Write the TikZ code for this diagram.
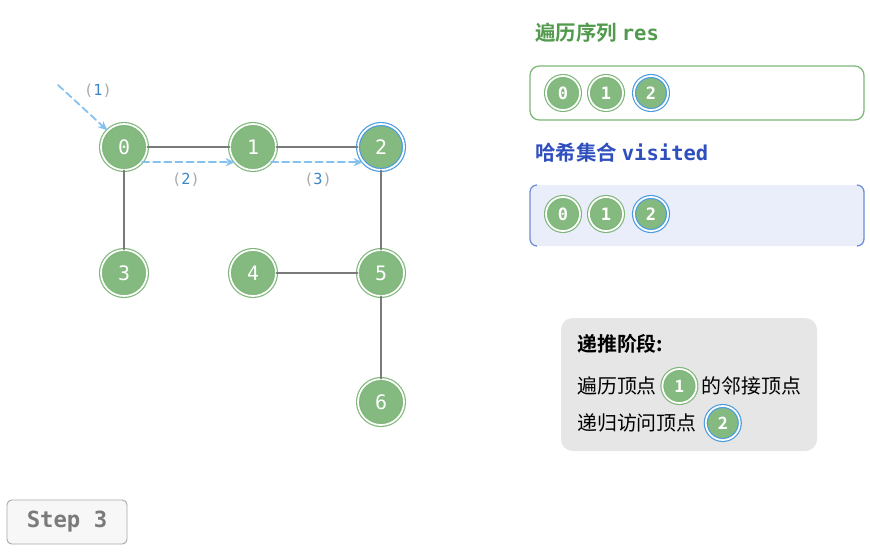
\documentclass[tikz,border=0pt]{standalone}
\usepackage{fontspec}
\setmainfont{Noto Sans CJK SC}[BoldFont={* Bold}]
\setmonofont{DejaVu Sans Mono}
\usetikzlibrary{arrows.meta,positioning}

\definecolor{vgreen}{HTML}{84B97F}
\definecolor{vring}{HTML}{7FB77A}
\definecolor{vblue}{HTML}{4A9BE0}
\definecolor{egray}{HTML}{7A7A7A}
\definecolor{tblue}{HTML}{84C1EE}
\definecolor{tagblue}{HTML}{3D86C6}
\definecolor{taggray}{HTML}{A8A8A8}
\definecolor{resgreen}{HTML}{529A4D}
\definecolor{visblue}{HTML}{2F4FBF}
\definecolor{visfill}{HTML}{E9EEFA}
\definecolor{visline}{HTML}{6F8CD6}
\definecolor{notefill}{HTML}{E6E6E6}
\definecolor{stepgray}{HTML}{7A7A7A}

\newcommand{\tagtext}[1]{{\color{taggray}(}{\color{tagblue}#1}{\color{taggray})}}

\begin{document}
\begin{tikzpicture}[x=0.03cm, y=-0.03cm, line cap=round,
  every node/.style={inner sep=0pt},
  vtx/.style={circle, fill=vgreen, draw=vring, double=white, double distance=1.5pt,
    line width=1pt, minimum size=1.38cm, text=white,
    font=\ttfamily\fontsize{17}{17}\selectfont},
  vtxnew/.style={vtx, draw=vblue},
  mini/.style={vtx, minimum size=1.02cm, font=\ttfamily\bfseries\fontsize{14.5}{14.5}\selectfont},
  mininew/.style={mini, draw=vblue},
  edge/.style={draw=egray, line width=2pt},
  trail/.style={draw=tblue, line width=1.5pt, dash pattern=on 6pt off 3.5pt,
    -{Stealth[length=8pt,width=7pt]}},
  tag/.style={font=\ttfamily\fontsize{13}{13}\selectfont},
  title/.style={anchor=west, font=\bfseries\fontsize{17.5}{17.5}\selectfont},
  note/.style={anchor=west, font=\fontsize{17}{17}\selectfont}]

\useasboundingbox (0,0) rectangle (870,551);

% ---------- graph ----------
\node[vtx] (n0) at (124,147) {0};
\node[vtx] (n1) at (253,147) {1};
\node[vtxnew] (n2) at (381,147) {2};
\node[vtx] (n3) at (124,273) {3};
\node[vtx] (n4) at (253,273) {4};
\node[vtx] (n5) at (381,273) {5};
\node[vtx] (n6) at (381,402) {6};

\draw[edge] (n0) -- (n1);
\draw[edge] (n1) -- (n2);
\draw[edge] (n0) -- (n3);
\draw[edge] (n2) -- (n5);
\draw[edge] (n4) -- (n5);
\draw[edge] (n5) -- (n6);

% ---------- search trail ----------
\coordinate (start) at (58,85);
\draw[trail] (start) -- (n0.135);
\draw[trail] (n0.-40) -- (n1.-140);
\draw[trail] (n1.-40) -- (n2.-140);
\node[tag] (t1) at (98,91) {\tagtext{1}};
\node[tag] (t2) at (186,180) {\tagtext{2}};
\node[tag] (t3) at (318,180) {\tagtext{3}};

% ---------- res ----------
\node[title, text=resgreen] (restitle) at (535,33) {遍历序列 {\ttfamily res}};
\draw[draw=vring, line width=1.1pt, fill=white, rounded corners=8pt] (530,66) rectangle (864,120);
\node[mini] (r0) at (563,93) {0};
\node[mini] (r1) at (606,93) {1};
\node[mininew] (r2) at (651,93) {2};

% ---------- visited ----------
\node[title, text=visblue] (vistitle) at (535,153) {哈希集合 {\ttfamily visited}};
\fill[visfill, rounded corners=8pt] (530,185) rectangle (864,246);
\draw[visline, line width=1.1pt, rounded corners=6pt] (537,185) -- (530,185) -- (530,246) -- (537,246);
\draw[visline, line width=1.1pt, rounded corners=6pt] (857,185) -- (864,185) -- (864,246) -- (857,246);
\node[mini] (s0) at (563,214) {0};
\node[mini] (s1) at (606,214) {1};
\node[mininew] (s2) at (651,214) {2};

% ---------- note ----------
\fill[notefill, rounded corners=10pt] (561,318) rectangle (817,451);
\node[note, font=\bfseries\fontsize{17}{17}\selectfont] (head) at (577,344) {递推阶段:};
\node[note] (l1a) at (577,386) {遍历顶点};
\node[mini, right=4pt of l1a, font=\bfseries\fontsize{14.5}{14.5}\selectfont] (c1) {1};
\node[note, right=4pt of c1] (l1b) {的邻接顶点};
\node[note] (l2a) at (577,423) {递归访问顶点};
\node[mininew, right=7pt of l2a, font=\bfseries\fontsize{14.5}{14.5}\selectfont] (c2) {2};

% ---------- step button ----------
\draw[draw=taggray, fill=black!3, line width=0.8pt, rounded corners=4pt] (7,500) rectangle (127,544);
\node[text=stepgray, font=\ttfamily\bfseries\fontsize{19}{19}\selectfont] (step) at (67,522) {Step 3};

\end{tikzpicture}
\end{document}
